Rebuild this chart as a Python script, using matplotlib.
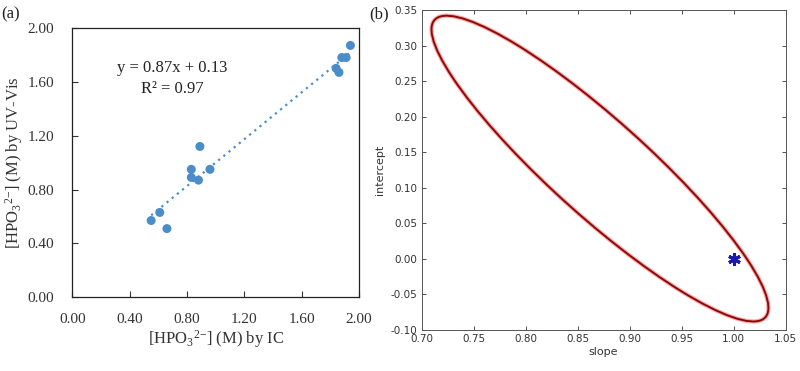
import numpy as np
import matplotlib
matplotlib.use('Agg')
import matplotlib.pyplot as plt
from matplotlib.patches import Ellipse

plt.rcParams['mathtext.fontset'] = 'custom'
plt.rcParams['mathtext.rm'] = 'Liberation Serif'
plt.rcParams['mathtext.it'] = 'Liberation Serif:italic'

# (a) HPO3 2- by IC vs by UV-Vis
ic    = [0.55, 0.61, 0.66, 0.83, 0.83, 0.88, 0.89, 0.96, 1.84, 1.86, 1.88, 1.91, 1.94]
uvvis = [0.57, 0.63, 0.51, 0.95, 0.89, 0.87, 1.12, 0.95, 1.70, 1.67, 1.78, 1.78, 1.87]
fit_slope, fit_icpt, r2 = 0.87, 0.13, 0.97
ticks_a = [0.00, 0.40, 0.80, 1.20, 1.60, 2.00]

# (b) joint confidence region of slope / intercept
ell_center = (0.8715, 0.127)      # slope, intercept
ell_cov = np.array([[0.02624, -0.03170],
                    [-0.03170, 0.04623]])   # already scaled to the plotted confidence level
ideal_pt = (1.00, 0.00)
xticks_b = [0.70, 0.75, 0.80, 0.85, 0.90, 0.95, 1.00, 1.05]
yticks_b = [-0.10, -0.05, 0.00, 0.05, 0.10, 0.15, 0.20, 0.25, 0.30, 0.35]

blue = '#4a8dca'
serif = 'Liberation Serif'

fig = plt.figure(figsize=(8.0, 3.71), dpi=100)

# ---- panel (a)
ax = fig.add_axes([0.0904, 0.1987, 0.3584, 0.726])
xx = np.array([min(ic), max(ic)])
ax.plot(xx, fit_slope*xx + fit_icpt, ls=(0, (1, 2)), color=blue, lw=1.6, zorder=2)
ax.scatter(ic, uvvis, s=42, color=blue, edgecolors='none', zorder=3)
ax.set_xlim(0, 2.0)
ax.set_ylim(0, 2.0)
ax.set_xticks(ticks_a)
ax.set_yticks(ticks_a)
ax.set_xticklabels(['%.2f' % t for t in ticks_a], family=serif, fontsize=11, color='#333333')
ax.set_yticklabels(['%.2f' % t for t in ticks_a], family=serif, fontsize=11, color='#333333')
ax.tick_params(direction='in', length=4, width=0.8, color='#333333')
ax.tick_params(axis='x', pad=11)
ax.tick_params(axis='y', pad=13)
for s in ax.spines.values():
    s.set_color('#222222')
    s.set_linewidth(0.9)
ax.set_xlabel(r'[HPO$_3$$^{2\mathrm{-}}$] (M) by IC', family=serif, fontsize=12, color='#333333', labelpad=2)
ax.set_ylabel(r'[HPO$_3$$^{2\mathrm{-}}$] (M) by UV-Vis', family=serif, fontsize=12, color='#333333', labelpad=2)
ax.text(0.70, 1.70, 'y = %.2fx + %.2f' % (fit_slope, fit_icpt), family=serif, fontsize=12,
        ha='center', va='center', color='#222222')
ax.text(0.70, 1.545, 'R\u00b2 = %.2f' % r2, family=serif, fontsize=12,
        ha='center', va='center', color='#222222')
fig.text(0.002, 0.962, '(a)', family=serif, fontsize=12, va='center', color='#222222')

# ---- panel (b)
bx = fig.add_axes([0.527, 0.1105, 0.455, 0.8625])
vals, vecs = np.linalg.eigh(ell_cov)
ang = np.degrees(np.arctan2(vecs[1, 1], vecs[0, 1]))
w, h = 2*np.sqrt(vals[1]), 2*np.sqrt(vals[0])
bx.add_patch(Ellipse(ell_center, w, h, angle=ang, fill=False, ec='#ff2020', lw=3.0, alpha=0.4))
bx.add_patch(Ellipse(ell_center, w, h, angle=ang, fill=False, ec='#8a0a0a', lw=1.4))
bx.plot([ideal_pt[0]], [ideal_pt[1]], marker=(6, 2, 0), ms=9, mew=2.2, color='#1a1aa8', ls='none')
bx.set_xlim(0.70, 1.05)
bx.set_ylim(-0.10, 0.35)
bx.set_xticks(xticks_b)
bx.set_yticks(yticks_b)
bx.set_xticklabels(['%.2f' % t for t in xticks_b], fontsize=7.5, color='#333333')
bx.set_yticklabels(['%.2f' % t for t in yticks_b], fontsize=7.5, color='#333333')
bx.tick_params(direction='in', length=3, width=0.6, color='#333333', top=True, right=True, pad=3)
for s in bx.spines.values():
    s.set_color('#555555')
    s.set_linewidth(0.7)
bx.set_xlabel('slope', fontsize=8, color='#333333', labelpad=2)
bx.set_ylabel('intercept', fontsize=8, color='#333333', labelpad=4)
fig.text(0.462, 0.962, '(b)', family=serif, fontsize=12, va='center', color='#222222')

fig.savefig('out.png', dpi=100)
